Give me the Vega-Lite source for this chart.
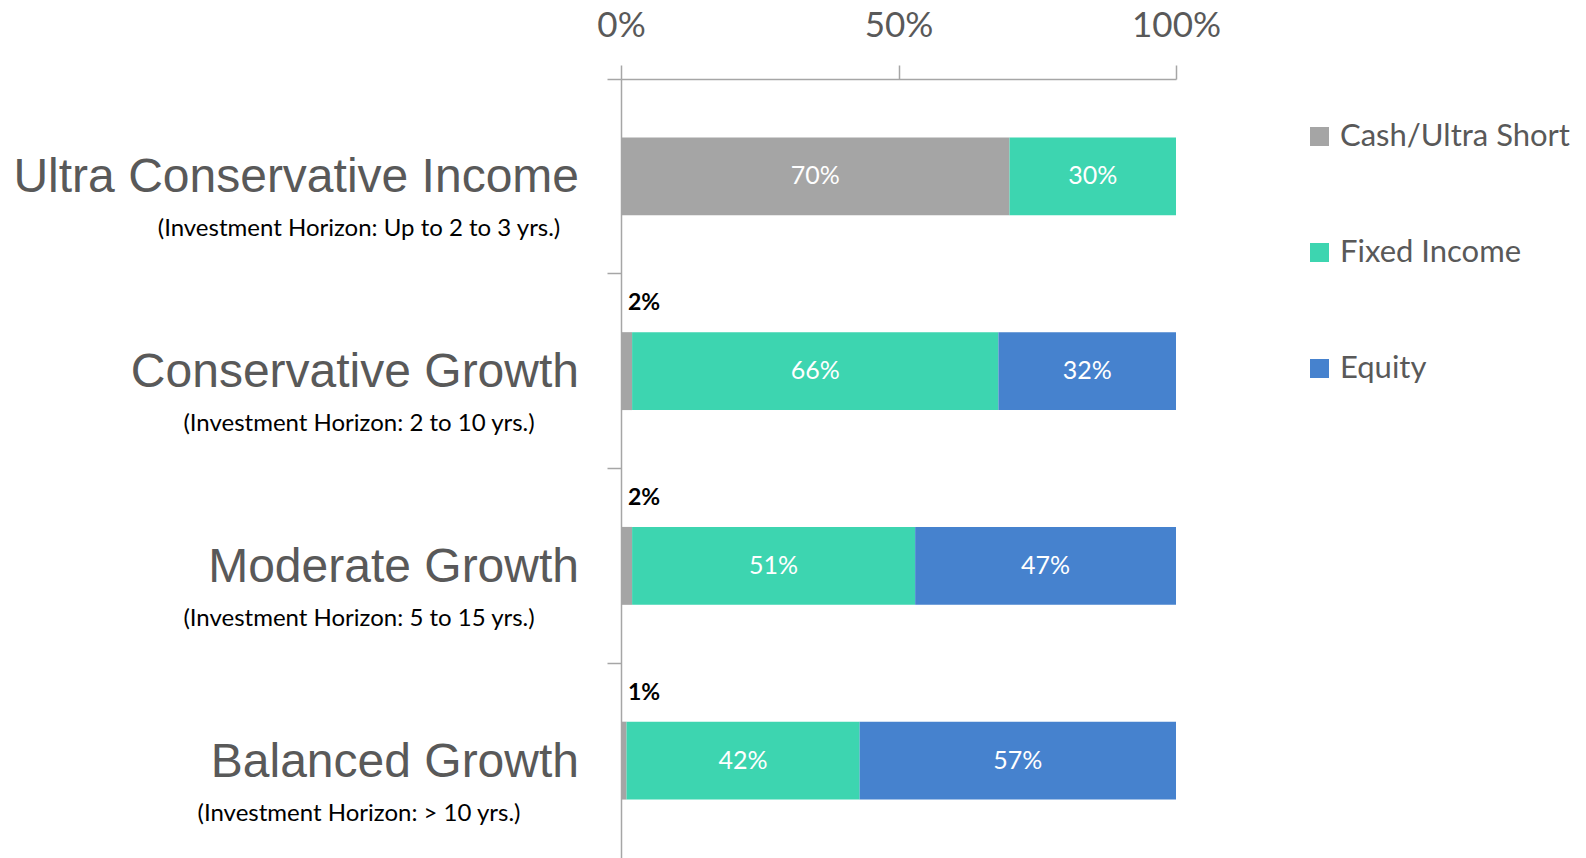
{
  "$schema": "https://vega.github.io/schema/vega-lite/v6.json",
  "width": 555,
  "height": 779,
  "autosize": {"type": "none"},
  "padding": {"left": 621, "top": 79, "right": 410, "bottom": 0},
  "background": "white",
  "config": {"view": {"stroke": null}},
  "data": {
    "values": [
      {"cat": "Ultra Conservative Income", "sub": "(Investment Horizon: Up to 2 to 3 yrs.)", "series": "Cash/Ultra Short", "ord": 1, "value": 0.70},
      {"cat": "Ultra Conservative Income", "sub": "(Investment Horizon: Up to 2 to 3 yrs.)", "series": "Fixed Income", "ord": 2, "value": 0.30},
      {"cat": "Conservative Growth", "sub": "(Investment Horizon: 2 to 10 yrs.)", "series": "Cash/Ultra Short", "ord": 1, "value": 0.02},
      {"cat": "Conservative Growth", "sub": "(Investment Horizon: 2 to 10 yrs.)", "series": "Fixed Income", "ord": 2, "value": 0.66},
      {"cat": "Conservative Growth", "sub": "(Investment Horizon: 2 to 10 yrs.)", "series": "Equity", "ord": 3, "value": 0.32},
      {"cat": "Moderate Growth", "sub": "(Investment Horizon: 5 to 15  yrs.)", "series": "Cash/Ultra Short", "ord": 1, "value": 0.02},
      {"cat": "Moderate Growth", "sub": "(Investment Horizon: 5 to 15  yrs.)", "series": "Fixed Income", "ord": 2, "value": 0.51},
      {"cat": "Moderate Growth", "sub": "(Investment Horizon: 5 to 15  yrs.)", "series": "Equity", "ord": 3, "value": 0.47},
      {"cat": "Balanced Growth", "sub": "(Investment Horizon: > 10 yrs.)", "series": "Cash/Ultra Short", "ord": 1, "value": 0.01},
      {"cat": "Balanced Growth", "sub": "(Investment Horizon: > 10 yrs.)", "series": "Fixed Income", "ord": 2, "value": 0.42},
      {"cat": "Balanced Growth", "sub": "(Investment Horizon: > 10 yrs.)", "series": "Equity", "ord": 3, "value": 0.57}
    ]
  },
  "transform": [
    {"stack": "value", "groupby": ["cat"], "sort": [{"field": "ord", "order": "ascending"}], "as": ["x0", "x1"]},
    {"calculate": "(datum.x0 + datum.x1) / 2", "as": "xm"}
  ],
  "encoding": {
    "y": {
      "field": "cat",
      "type": "nominal",
      "sort": ["Ultra Conservative Income", "Conservative Growth", "Moderate Growth", "Balanced Growth"],
      "scale": {"paddingInner": 0, "paddingOuter": 0},
      "axis": {
        "labels": false,
        "title": null,
        "grid": false,
        "bandPosition": 0,
        "ticks": true,
        "tickSize": 14,
        "tickColor": "#A6A6A6",
        "tickWidth": 1.5,
        "domainColor": "#A6A6A6",
        "domainWidth": 1.5
      }
    }
  },
  "layer": [
    {
      "mark": {"type": "bar", "height": {"band": 0.4}},
      "encoding": {
        "x": {
          "field": "x0",
          "type": "quantitative",
          "scale": {"domain": [0, 1], "nice": false, "zero": true},
          "axis": {
            "orient": "top",
            "values": [0, 0.5, 1],
            "format": ".0%",
            "title": null,
            "grid": false,
            "labelFont": "Lato",
            "labelFontSize": 35,
            "labelColor": "#595959",
            "labelPadding": 22,
            "labelFlush": false,
            "tickSize": 14,
            "tickColor": "#A6A6A6",
            "tickWidth": 1.5,
            "domainColor": "#A6A6A6",
            "domainWidth": 1.5
          }
        },
        "x2": {"field": "x1"},
        "color": {
          "field": "series",
          "type": "nominal",
          "scale": {
            "domain": ["Cash/Ultra Short", "Fixed Income", "Equity"],
            "range": ["#A5A5A5", "#3DD5B0", "#4682CE"]
          },
          "legend": {
            "title": null,
            "orient": "right",
            "offset": 86,
            "padding": 42,
            "symbolType": "square",
            "symbolSize": 361,
            "symbolStrokeWidth": 0,
            "labelFont": "Lato",
            "labelFontSize": 31,
            "labelColor": "#595959",
            "labelOffset": 5,
            "labelLimit": 400,
            "rowPadding": 84
          }
        }
      }
    },
    {
      "transform": [{"filter": "datum.value >= 0.05"}],
      "mark": {"type": "text", "font": "Lato", "fontSize": 25, "color": "white", "baseline": "middle", "align": "center"},
      "encoding": {
        "x": {"field": "xm", "type": "quantitative"},
        "text": {"field": "value", "type": "quantitative", "format": ".0%"}
      }
    },
    {
      "transform": [{"filter": "datum.value < 0.05"}],
      "mark": {"type": "text", "font": "Lato", "fontSize": 23, "fontWeight": "bold", "color": "black", "baseline": "middle", "align": "left", "dx": 7, "dy": -68},
      "encoding": {
        "x": {"field": "x0", "type": "quantitative"},
        "text": {"field": "value", "type": "quantitative", "format": ".0%"}
      }
    },
    {
      "transform": [{"filter": "datum.series === 'Fixed Income'"}],
      "mark": {"type": "text", "font": "Liberation Sans", "fontSize": 48, "color": "#595959", "baseline": "middle", "align": "right", "dx": -42, "dy": 2},
      "encoding": {
        "x": {"datum": 0},
        "text": {"field": "cat"}
      }
    },
    {
      "transform": [{"filter": "datum.series === 'Fixed Income'"}],
      "mark": {"type": "text", "font": "Lato", "fontSize": 24, "fontWeight": "normal", "color": "#000000", "baseline": "middle", "align": "center", "dx": -262, "dy": 53},
      "encoding": {
        "x": {"datum": 0},
        "text": {"field": "sub"}
      }
    }
  ]
}
